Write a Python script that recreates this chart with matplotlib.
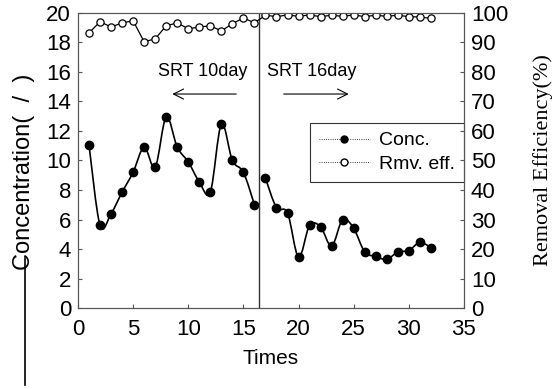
import matplotlib
matplotlib.use('Agg')
import matplotlib.pyplot as plt
from matplotlib.path import Path
from matplotlib.patches import PathPatch
from matplotlib.lines import Line2D

# Datos
times_a = [1, 2, 3, 4, 5, 6, 7, 8, 9, 10, 11, 12, 13, 14, 15, 16]
conc_a = [11.05, 5.6, 6.4, 7.85, 9.2, 10.9, 9.55, 12.95, 10.9, 9.9, 8.55, 7.85, 12.45, 10.0, 9.2, 7.0]
times_b = [17, 18, 19, 20, 21, 22, 23, 24, 25, 26, 27, 28, 29, 30, 31, 32]
conc_b = [8.8, 6.8, 6.45, 3.45, 5.6, 5.5, 4.2, 6.0, 5.4, 3.8, 3.5, 3.3, 3.8, 3.9, 4.45, 4.1]

times = times_a + times_b
rmv = [93.2, 97.0, 95.2, 96.6, 97.3, 90.2, 91.2, 95.6, 96.6, 94.6, 95.2, 95.6, 93.9, 96.3, 98.3, 96.6,
       99.2, 98.7, 99.3, 98.8, 99.3, 98.7, 99.2, 98.8, 99.3, 98.7, 99.2, 98.8, 99.2, 98.7, 98.6, 98.1]

x_ticks = [0, 5, 10, 15, 20, 25, 30, 35]
y_ticks = [0, 2, 4, 6, 8, 10, 12, 14, 16, 18, 20]
y2_ticks = [0, 10, 20, 30, 40, 50, 60, 70, 80, 90, 100]
corte = 16.4


def curva_suave(xs, ys):
    # Catmull-Rom convertido a curvas Bezier (solo estilo de trazo)
    verts = [(xs[0], ys[0])]
    codes = [Path.MOVETO]
    n = len(xs)
    for i in range(n - 1):
        x0, y0 = (xs[i - 1], ys[i - 1]) if i > 0 else (xs[i], ys[i])
        x1, y1 = xs[i], ys[i]
        x2, y2 = xs[i + 1], ys[i + 1]
        x3, y3 = (xs[i + 2], ys[i + 2]) if i + 2 < n else (x2, y2)
        c1 = (x1 + (x2 - x0) / 6.0, y1 + (y2 - y0) / 6.0)
        c2 = (x2 - (x3 - x1) / 6.0, y2 - (y3 - y1) / 6.0)
        verts += [c1, c2, (x2, y2)]
        codes += [Path.CURVE4] * 3
    return Path(verts, codes)


fig = plt.figure(figsize=(5.57, 3.89), dpi=100)
ax = fig.add_axes([0.140, 0.208, 0.693, 0.759])
ax2 = ax.twinx()

fuente = 'Liberation Sans'

for xs, ys in [(times_a, conc_a), (times_b, conc_b)]:
    ax.add_patch(PathPatch(curva_suave(xs, ys), facecolor='none', edgecolor='black', lw=1.2))
    ax.plot(xs, ys, ls='none', marker='o', ms=6, color='black')

ax2.plot(times, rmv, color='black', lw=0.9, marker='o', ms=5.2, mfc='white', mec='black', mew=0.9)

ax.axvline(corte, color='#333333', lw=1.0)

ax.set_xlim(0, 35)
ax.set_ylim(0, 20)
ax2.set_ylim(0, 100)
ax.set_xticks(x_ticks)
ax.set_yticks(y_ticks)
ax2.set_yticks(y2_ticks)

for a in (ax, ax2):
    for s in a.spines.values():
        s.set_color('#555555')
        s.set_linewidth(0.8)
    a.tick_params(direction='in', length=3, width=0.8, colors='#555555', labelcolor='black', labelsize=16)
    for lab in a.get_xticklabels() + a.get_yticklabels():
        lab.set_fontfamily(fuente)

ax.tick_params(axis='x', pad=8)
ax.tick_params(axis='y', pad=5)
ax2.tick_params(axis='y', pad=5)
ax.set_xlabel('Times', fontsize=15, fontfamily=fuente, labelpad=6)
ax.set_ylabel('Concentration(  /  )', fontsize=17, fontfamily=fuente)
ax.yaxis.set_label_coords(-0.111, 0.46)
ax2.set_ylabel('Removal Efficiency(%)', fontsize=16, fontfamily='Liberation Serif', labelpad=18)

ax.text(11.3, 16.0, 'SRT 10day', ha='center', va='center', fontsize=13, fontfamily=fuente)
ax.text(21.2, 16.0, 'SRT 16day', ha='center', va='center', fontsize=13, fontfamily=fuente)
ax.annotate('', xy=(8.3, 14.5), xytext=(14.6, 14.5),
            arrowprops=dict(arrowstyle='->', lw=0.8, color='black', mutation_scale=18))
ax.annotate('', xy=(24.8, 14.5), xytext=(18.4, 14.5),
            arrowprops=dict(arrowstyle='->', lw=0.8, color='black', mutation_scale=18))

h1 = Line2D([], [], color='black', lw=0.6, ls=':', marker='o', ms=5, mfc='black')
h2 = Line2D([], [], color='black', lw=0.6, ls=':', marker='o', ms=5, mfc='white')
leg = ax.legend([h1, h2], ['Conc.', 'Rmv. eff.'], loc='upper right',
                bbox_to_anchor=(1.0, 0.627), frameon=True, fancybox=False,
                edgecolor='black', prop={'family': fuente, 'size': 14},
                handlelength=2.6, borderpad=0.45, labelspacing=0.3, handletextpad=0.5,
                borderaxespad=0)
leg.get_frame().set_linewidth(0.8)

# linea vertical suelta a la izquierda (como en la imagen escaneada)
fig.add_artist(Line2D([25 / 557, 25 / 557], [1 - 258 / 389, 1 - 385 / 389],
                      color='black', lw=1.2, transform=fig.transFigure))

fig.savefig('out.png', dpi=100)
